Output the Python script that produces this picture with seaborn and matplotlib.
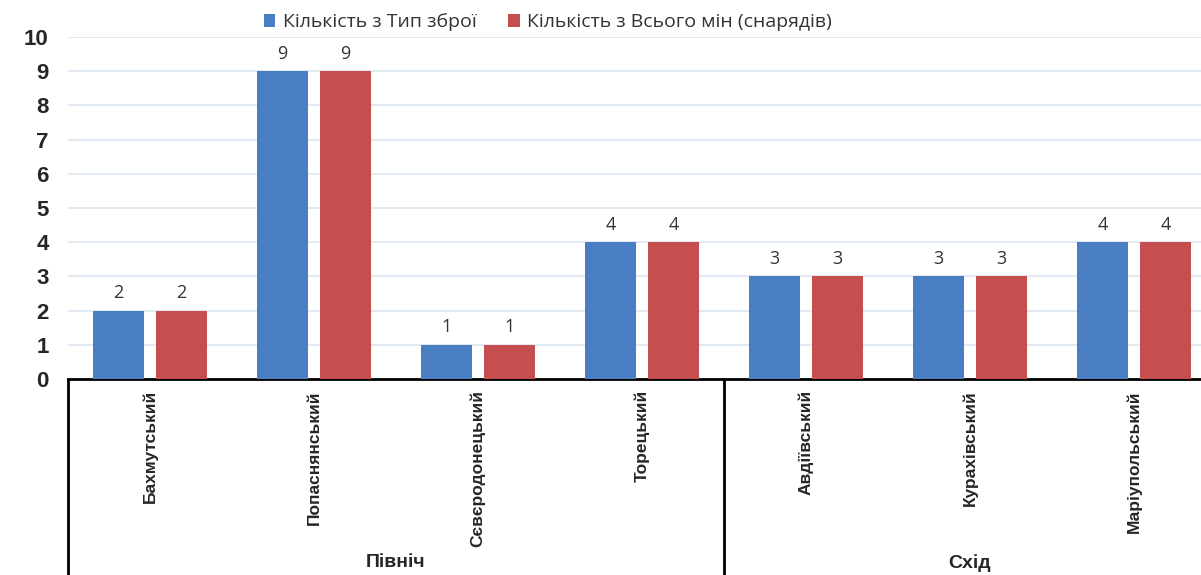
"""
Кількість за типом зброї та мін (снарядів) по районах
"""

import pandas as pd
import matplotlib.pyplot as plt
import matplotlib.transforms as mtransforms
import seaborn as sns

# Дані
districts = ["Бахмутський", "Попаснянський", "Сєвєродонецький", "Торецький",
             "Авдіївський", "Курахівський", "Маріупольський"]
groups = ["Північ", "Північ", "Північ", "Північ", "Схід", "Схід", "Схід"]
weapon_counts = [2, 9, 1, 4, 3, 3, 4]
shell_counts = [2, 9, 1, 4, 3, 3, 4]
series_names = ["Кількість з Тип зброї", "Кількість з Всього мін (снарядів)"]
y_ticks = list(range(0, 11))

df = pd.DataFrame({
    "district": districts * 2,
    "series": [series_names[0]] * len(districts) + [series_names[1]] * len(districts),
    "value": weapon_counts + shell_counts,
})

sns.set_style("white")
plt.rcParams["font.family"] = ["Liberation Sans", "DejaVu Sans"]

fig = plt.figure(figsize=(12.01, 5.75), dpi=100)
ax = fig.add_axes([68 / 1201, (575 - 379) / 575, 1148 / 1201, 342 / 575])

sns.barplot(data=df, x="district", y="value", hue="series", order=districts,
            hue_order=series_names, palette=["#4A7EC2", "#C54E4E"],
            saturation=1, linewidth=0, width=0.77, gap=0.2, ax=ax, zorder=3)

# Підписи значень
for cont in ax.containers:
    ax.bar_label(cont, padding=6, fontsize=13, color="#333333",
                 family=["Open Sans", "DejaVu Sans"])

ax.set_xlim(-0.5, len(districts) - 0.5)
ax.set_ylim(0, 10)
ax.set_yticks(y_ticks)
ax.set_yticklabels([str(t) for t in y_ticks], fontsize=16, fontweight="bold")
ax.yaxis.grid(True, color="#DCE6F0", linewidth=1.2, zorder=0)
ax.set_xlabel("")
ax.set_ylabel("")
ax.tick_params(axis="y", length=0, pad=14)
ax.tick_params(axis="x", length=0, pad=8)
plt.setp(ax.get_xticklabels(), rotation=90, fontsize=12.5, fontweight="bold",
         va="top", ha="center")

for side in ["left", "right", "top"]:
    ax.spines[side].set_visible(False)
ax.spines["bottom"].set_color("black")
ax.spines["bottom"].set_linewidth(2)

# Лінії груп і підписи груп
trans = mtransforms.blended_transform_factory(ax.transData, ax.transAxes)
for xv in [-0.5, 3.5, 6.5]:
    ax.plot([xv, xv], [0, -0.6], color="black", linewidth=2,
            transform=trans, clip_on=False)
ax.text(1.5, -0.538, "Північ", transform=trans, ha="center", va="center",
        fontsize=14, fontweight="bold")
ax.text(5.0, -0.538, "Схід", transform=trans, ha="center", va="center",
        fontsize=14, fontweight="bold")

sns.move_legend(ax, "upper center", bbox_to_anchor=(0.418, 1.12), ncol=2,
                frameon=False, title=None, fontsize=14, handlelength=0.6,
                handleheight=0.6, columnspacing=1.6, handletextpad=0.4)
for txt in ax.get_legend().get_texts():
    txt.set_color("#333333")
    txt.set_family(["Open Sans", "DejaVu Sans"])

fig.savefig("out.png", dpi=100)
